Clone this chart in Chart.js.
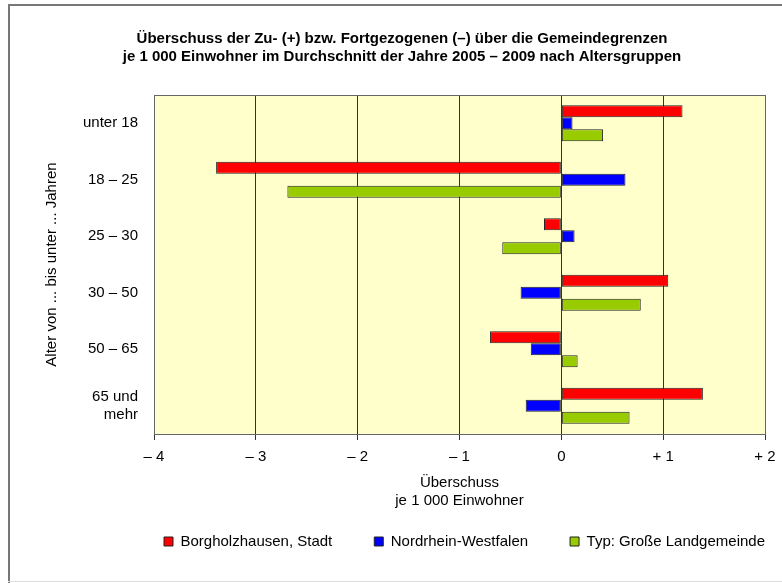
<!DOCTYPE html>
<html>
<head>
<meta charset="utf-8">
<script src="https://cdn.jsdelivr.net/npm/chart.js@4"></script>
<style>
  html, body { margin: 0; padding: 0; background: #fff; }
  #wrap { width: 782px; height: 583px; }
</style>
</head>
<body>
<div id="wrap"><canvas id="chart" width="782" height="583"></canvas></div>
<script>
const ageGroups = ['unter 18', '18 – 25', '25 – 30', '30 – 50', '50 – 65', ['65 und', 'mehr']];
const borgholzhausen = [1.19, -3.39, -0.17, 1.05, -0.70, 1.39];
const nrw = [0.11, 0.63, 0.13, -0.40, -0.30, -0.35];
const landgemeinde = [0.41, -2.69, -0.58, 0.78, 0.16, 0.67];
const seriesNames = ['Borgholzhausen, Stadt', 'Nordrhein-Westfalen', 'Typ: Große Landgemeinde'];

const FONT = '"Liberation Sans", Arial, sans-serif';
const LEGEND_GAP = 42;

// frame and yellow plot background
const backdrop = {
    id: 'backdrop',
    afterLayout(chart) {
        // legend row sits flush with the right edge of the plot
        chart.legend.left += LEGEND_GAP;
        chart.legend.right += LEGEND_GAP;
    },
    beforeDraw(chart) {
        const ctx = chart.ctx;
        const a = chart.chartArea;
        ctx.save();
        ctx.fillStyle = '#fff';
        ctx.fillRect(0, 0, chart.width, chart.height);
        ctx.fillStyle = '#777';
        ctx.fillRect(8, 4, chart.width - 8, 2);
        ctx.fillRect(8, 4, 2, chart.height - 4);
        ctx.fillStyle = '#ddd';
        ctx.fillRect(8, chart.height - 2, chart.width - 8, 1);
        ctx.fillStyle = '#FFFFCC';
        ctx.fillRect(a.left, a.top, a.right - a.left, a.bottom - a.top);
        ctx.restore();
    },
    afterDatasetsDraw(chart) {
        const ctx = chart.ctx;
        const a = chart.chartArea;
        ctx.save();
        ctx.strokeStyle = '#666';
        ctx.lineWidth = 1;
        ctx.strokeRect(a.left + 0.5, a.top + 0.5, a.right - a.left, a.bottom - a.top);
        ctx.restore();
    }
};

new Chart(document.getElementById('chart'), {
    type: 'bar',
    data: {
        labels: ageGroups,
        datasets: [
            { label: seriesNames[0], data: borgholzhausen, backgroundColor: '#FF0000' },
            { label: seriesNames[1], data: nrw, backgroundColor: '#0000FF' },
            { label: seriesNames[2], data: landgemeinde, backgroundColor: '#99CC00' }
        ].map(d => Object.assign(d, {
            borderColor: '#222',
            borderWidth: 1,
            borderSkipped: false,
            categoryPercentage: 0.64,
            barPercentage: 1.0
        }))
    },
    options: {
        indexAxis: 'y',
        responsive: false,
        animation: false,
        layout: { padding: { top: 30, left: 39, right: 17, bottom: 24 } },
        plugins: {
            title: {
                display: true,
                text: ['Überschuss der Zu- (+) bzw. Fortgezogenen (–) über die Gemeindegrenzen',
                       'je 1 000 Einwohner im Durchschnitt der Jahre 2005 – 2009 nach Altersgruppen'],
                color: '#000',
                font: { family: FONT, size: 15, weight: 'bold', lineHeight: 1.2 },
                padding: { top: 0, bottom: 29 }
            },
            legend: {
                position: 'bottom',
                align: 'end',
                labels: {
                    color: '#000',
                    font: { family: FONT, size: 15 },
                    boxWidth: 9,
                    boxHeight: 9,
                    padding: LEGEND_GAP
                }
            },
            tooltip: { enabled: false }
        },
        scales: {
            x: {
                min: -4,
                max: 2,
                ticks: {
                    stepSize: 1,
                    color: '#000',
                    font: { family: FONT, size: 15 },
                    padding: 8,
                    callback: v => v < 0 ? '– ' + Math.abs(v) : (v > 0 ? '+ ' + v : '0')
                },
                grid: { color: '#333', tickColor: '#333', tickLength: 6, lineWidth: 1 },
                border: { color: '#333' },
                title: {
                    display: true,
                    text: ['Überschuss', 'je 1 000 Einwohner'],
                    color: '#000',
                    font: { family: FONT, size: 15, lineHeight: 1.2 },
                    padding: { top: 0, bottom: -18 }
                },
                afterFit: s => {
                    s.height = 58;
                    s.paddingLeft = 0;
                    s.paddingRight = 0;
                }
            },
            y: {
                ticks: {
                    color: '#000',
                    font: { family: FONT, size: 15 },
                    padding: 8
                },
                grid: { display: false },
                border: { color: '#666' },
                title: {
                    display: true,
                    text: 'Alter von ... bis unter ... Jahren',
                    color: '#000',
                    font: { family: FONT, size: 15 }
                },
                afterFit: s => { s.width = 115; }
            }
        }
    },
    plugins: [backdrop]
});
</script>
</body>
</html>
